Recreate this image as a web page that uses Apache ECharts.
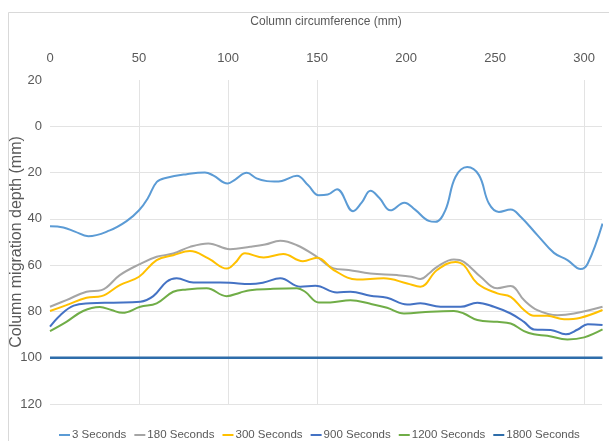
<!DOCTYPE html>
<html><head><meta charset="utf-8">
<script src="https://cdn.jsdelivr.net/npm/echarts@6/dist/echarts.min.js"></script>
<style>html,body{margin:0;padding:0;background:#fff}#c{width:609px;height:441px}</style>
</head><body><div id="c"></div>
<script>
const seriesNames = ['3 Seconds', '180 Seconds', '300 Seconds', '900 Seconds', '1200 Seconds', '1800 Seconds'];
const seriesColors = ['#5B9BD5', '#A5A5A5', '#FFC000', '#4472C4', '#70AD47', '#2E6DAA'];

const pos3 = [0,7.5,14,21.5,33.6,43,50,55,60,65.5,76.8,87,91.6,99.8,104,110.5,116,121.8,126,130.2,138.7,145,150.9,156,161.2,170.2,175,180,185,191.2,199,205,212.7,216.5,222,227.7,234.3,240.9,246.5,252.1,258.7,264.3,273.7,283,290.6,298,302,310.3];
const depth3 = [43.2,43.7,45.5,47.5,45,41,36.3,31,24,22.2,20.7,20,21.2,24.7,23,20.1,22.5,23.7,23.9,23.6,21.4,25.5,29.8,29.5,27.2,36.7,33,27.9,31,36.3,33,36,40.9,41.3,36.3,21.9,17.6,21.1,33.4,37,36,39.1,47,54.7,57.8,61.7,59.3,42];

const pos180 = [0,9.2,20.5,28.9,39.2,50,59.9,69.2,78.6,88.9,101.1,112.4,120.8,129.3,138.7,149.9,159.3,167.7,179.9,194.9,203,208,213,217.4,226.8,232.4,241.8,251.2,258.7,266.2,273.7,285,294.3,310.3];
const depth180 = [78,75.1,71.5,70.8,64.3,59.7,56.4,55,52.1,50.6,53.1,52.1,51.1,49.5,51.4,56.4,61.4,62.1,63.6,64.3,65,66,63.5,60.7,57.6,58.6,65,70,69,75.1,79.4,81.6,80.9,78];

const pos300 = [0,9.2,20.5,28.9,39.2,50,59.9,69.2,78.6,88.9,99.4,104,109.5,120,131,142,150,159.3,172.4,187.4,200.6,208,217.4,227.7,232.4,240,251.2,258.7,266.2,271.8,279.3,288.7,298,310.3];
const depth300 = [79.8,77.3,74.1,73.4,68.6,65,57.8,55.7,53.9,57.1,61.5,59,54.9,56.7,55.2,58.3,56.8,62.1,66.2,65.7,67.9,69.3,62.1,58.6,60,67.9,72.2,73.7,79.4,81.9,81.9,83.4,82.7,79.4];

const pos900 = [0,5.8,13.3,22.6,35.7,50.7,58,65.5,71.1,80.5,95.5,101.1,112.4,120,129.3,140.5,149,161.2,168.7,179.9,189.3,200.6,208,219.3,230.6,240,249.3,258.7,266.2,271.8,281.2,289.7,296.4,302,310.3];
const depth900 = [86.6,81.6,77.5,76.5,76.2,75.8,73.4,67.2,65.7,67.5,67.5,67.6,68.2,67.5,65.7,69.3,68.9,71.8,71.5,73.2,74.1,77,76.5,78,78,76.2,78,80.9,84.5,87.8,88,89.9,87.8,85.5,85.9];

const pos1200 = [0,9.2,18.6,28,34.5,40.7,50.7,59.9,69.2,76.8,88,99.2,106.7,112.4,123.6,138.7,143.3,150.9,157.4,168.7,179.9,189.3,198.8,213.7,226.8,232.4,240,251.2,258.7,266.2,271.8,279.3,290.6,300,310.3];
const depth1200 = [88.5,84.5,79.8,78.1,79.4,80.6,78,76.5,71.5,70.5,70,73.4,71.9,70.8,70.3,70,71.5,76.1,76.1,75.2,76.7,78.4,80.9,80.1,79.8,80.9,83.7,84.5,85.2,88.5,89.9,90.5,92.1,91.2,87.8];

const pos1800 = [0, 310.3];
const depth1800 = [100, 100];

const allPos = [pos3, pos180, pos300, pos900, pos1200, pos1800];
const allDepth = [depth3, depth180, depth300, depth900, depth1200, depth1800];

const FONT = "'Liberation Sans',Arial,sans-serif";
const GRID = '#e3e3e3', NONE = 'rgba(0,0,0,0)';

const chart = echarts.init(document.getElementById('c'), null, {renderer: 'canvas'});
chart.setOption({
  animation: false,
  backgroundColor: '#fff',
  graphic: [{type: 'rect', silent: true, z: -10, shape: {x: 8.5, y: 12.5, width: 640, height: 460}, style: {fill: 'none', stroke: '#d9d9d9', lineWidth: 1}}],
  grid: {left: 50, right: 7, top: 80, bottom: 37, containLabel: false, outerBoundsMode: 'none'},
  legend: {
    top: 424, left: 54, icon: 'rect', itemWidth: 11, itemHeight: 2, itemGap: 8,
    data: seriesNames,
    textStyle: {fontFamily: FONT, fontSize: 11.5, color: '#595959', padding: [0, 0, 0, -3]}
  },
  xAxis: {
    type: 'value', position: 'top', min: 0, max: 310, interval: 50,
    name: 'Column circumference (mm)', nameLocation: 'middle', nameGap: 52, nameMoveOverlap: false,
    nameTextStyle: {fontFamily: FONT, fontSize: 12, color: '#595959'},
    axisLine: {show: false}, axisTick: {show: false},
    axisLabel: {showMaxLabel: false, margin: 15, fontFamily: FONT, fontSize: 13, color: '#595959'},
    splitLine: {show: true, lineStyle: {width: 1, color: [NONE, GRID, GRID, GRID, NONE, NONE, GRID, NONE]}}
  },
  yAxis: {
    type: 'value', inverse: true, min: -20, max: 120, interval: 20,
    name: 'Column migration depth (mm)', nameLocation: 'middle', nameGap: 25, nameRotate: 90, nameMoveOverlap: false,
    nameTextStyle: {fontFamily: FONT, fontSize: 16, color: '#595959'},
    axisLine: {show: false}, axisTick: {show: false},
    axisLabel: {margin: 8, fontFamily: FONT, fontSize: 13, color: '#595959', formatter: v => String(Math.abs(v))},
    splitLine: {show: true, lineStyle: {width: 1, color: [NONE, GRID, GRID, GRID, GRID, GRID, GRID, GRID]}}
  },
  series: seriesNames.map((name, i) => ({
    name: name, type: 'line', smooth: 0.4, showSymbol: false, symbol: 'none',
    color: seriesColors[i],
    lineStyle: {width: i === 5 ? 2.5 : 2, color: seriesColors[i]},
    data: allPos[i].map((x, j) => [x, allDepth[i][j]])
  }))
});
</script></body></html>
